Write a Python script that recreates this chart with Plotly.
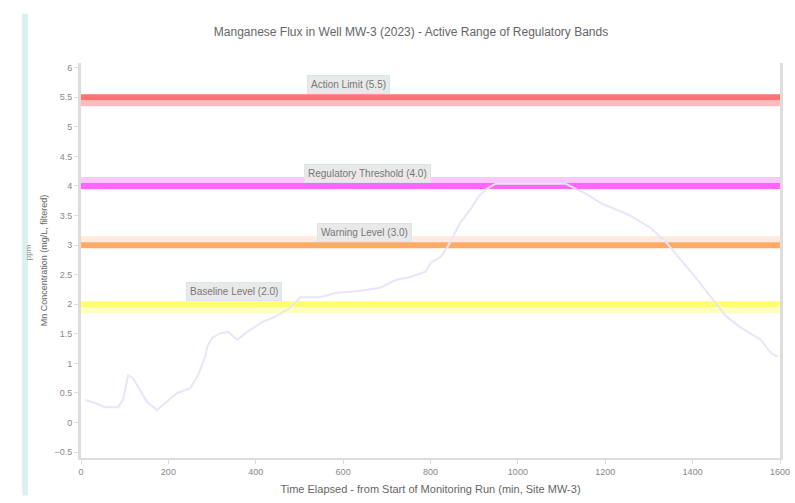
import plotly.graph_objects as go

# ---- data ----
time_min = [10, 32, 55, 85, 96, 108, 119, 135, 151, 174, 193, 220, 250, 268, 284, 289,
            300, 319, 337, 358, 376, 394, 415, 445, 479, 502, 548, 582, 640, 685, 720,
            754, 789, 800, 823, 839, 853, 869, 892, 910, 926, 949, 1029, 1109, 1160,
            1190, 1254, 1304, 1339, 1373, 1407, 1442, 1476, 1511, 1556, 1579, 1595]
level = [0.38, 0.33, 0.26, 0.26, 0.38, 0.80, 0.75, 0.55, 0.35, 0.21, 0.33, 0.50, 0.58,
         0.80, 1.11, 1.28, 1.43, 1.51, 1.53, 1.40, 1.51, 1.60, 1.70, 1.79, 1.94, 2.12,
         2.12, 2.19, 2.23, 2.28, 2.41, 2.46, 2.55, 2.70, 2.80, 2.97, 3.17, 3.39, 3.61,
         3.82, 3.94, 4.04, 4.04, 4.04, 3.85, 3.71, 3.51, 3.29, 3.05, 2.75, 2.45, 2.12,
         1.80, 1.60, 1.40, 1.18, 1.11]

band_names = ["Action Limit (5.5)", "Regulatory Threshold (4.0)", "Warning Level (3.0)",
              "Baseline Level (2.0)"]
band_values = [5.5, 4.0, 3.0, 2.0]
band_side = [-1, 1, 1, -1]          # side of the pale tolerance strip
band_label_x = [612, 656, 649, 351]
band_colors = ["#ff7373", "#ff66ff", "#ffaa64", "#ffff6e"]
band_pale = ["#ffbcc0", "#fbc8fb", "#ffeadb", "#ffffbe"]

x_ticks = [0, 200, 400, 600, 800, 1000, 1200, 1400, 1600]

FONT = "Liberation Sans"

fig = go.Figure()

shapes = []
for v, s, c, p in zip(band_values, band_side, band_colors, band_pale):
    y0 = v + s * 0.05
    y1 = v + s * 0.15
    shapes.append(dict(type="rect", xref="x", yref="y", x0=0, x1=1600,
                       y0=min(y0, y1), y1=max(y0, y1), fillcolor=p,
                       line=dict(width=0), layer="below"))
    shapes.append(dict(type="line", xref="x", yref="y", x0=0, x1=1600, y0=v, y1=v,
                       line=dict(color=c, width=6), layer="below"))

# decorative left guide strip
shapes.append(dict(type="line", xref="paper", yref="paper", x0=-0.08, x1=-0.08,
                   y0=-0.095, y1=1.125, line=dict(color="#dcefef", width=6)))

fig.add_trace(go.Scatter(x=time_min, y=level, mode="lines",
                         line=dict(color="#e6e6fa", width=2), showlegend=False))

annotations = []
for name, v, lx in zip(band_names, band_values, band_label_x):
    annotations.append(dict(x=lx, y=v, xref="x", yref="y", text=name,
                            showarrow=False, yanchor="bottom", yshift=3,
                            font=dict(size=10, color="#777777", family=FONT),
                            bgcolor="#e9e9e9", bordercolor="#d8e8e8", borderwidth=1,
                            borderpad=3))
annotations.append(dict(x=-0.075, y=0.52, xref="paper", yref="paper", text="ppm",
                        showarrow=False, textangle=-90, xanchor="center",
                        yanchor="middle",
                        font=dict(size=8, color="#888888", family=FONT)))

fig.update_layout(
    width=795, height=503,
    margin=dict(l=81, r=15, t=63, b=45),
    paper_bgcolor="white", plot_bgcolor="white",
    title=dict(text="Manganese Flux in Well MW-3 (2023) - Active Range of Regulatory Bands",
               x=0.517, xanchor="center", y=0.936, yanchor="middle",
               font=dict(size=12, color="#666666", family=FONT)),
    xaxis=dict(range=[0, 1600], tickvals=x_ticks, showgrid=False, zeroline=False,
               automargin=False,
               showline=True, linecolor="#dddddd", linewidth=2, ticks="outside",
               ticklen=4, tickcolor="#dddddd",
               tickfont=dict(size=9, color="#888888", family=FONT),
               title=dict(text="Time Elapsed - from Start of Monitoring Run (min, Site MW-3)",
                          font=dict(size=11, color="#666666", family=FONT),
                          standoff=10)),
    yaxis=dict(range=[-0.6, 6.08], dtick=0.5, showgrid=False, zeroline=False,
               automargin=False,
               showline=True, linecolor="#dddddd", linewidth=3, mirror=True,
               ticks="outside", ticklen=4, tickcolor="#dddddd",
               tickfont=dict(size=9, color="#888888", family=FONT),
               title=dict(text="Mn Concentration (mg/L, filtered)",
                          font=dict(size=9, color="#666666", family=FONT),
                          standoff=6)),
    shapes=shapes,
    annotations=annotations,
)

fig.write_html("out.html",
               config={"displayModeBar": False},
               post_script="document.body.style.margin='0';"
                           "document.body.style.overflow='hidden';")
